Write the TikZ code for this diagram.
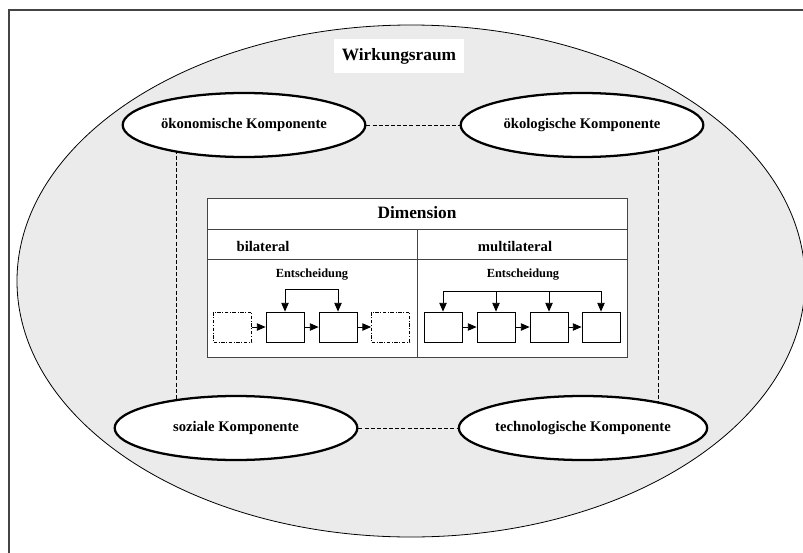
\documentclass[tikz,border=0pt]{standalone}
\usepackage{fontspec}
\setmainfont{Liberation Serif}
\usepackage{xcolor}
\definecolor{rahmengrau}{HTML}{444444}
\definecolor{raster}{HTML}{EBEBEB}
\usetikzlibrary{arrows.meta,positioning,calc,shapes.geometric,backgrounds}
\tikzset{
  >={Triangle[length=6.5pt,width=5.5pt]},
  komp/.style  ={ellipse,draw=black,fill=white,line width=1.7pt,inner sep=0pt,
                 minimum width=182pt,minimum height=48pt,
                 font=\bfseries\fontsize{11}{13}\selectfont},
  feld/.style  ={rectangle,draw=black,fill=white,line width=0.6pt,inner sep=0pt,
                 minimum width=28.5pt,minimum height=22.5pt},
  offen/.style ={feld,dash pattern=on 2.6pt off 1.2pt on 0.7pt off 1.2pt},
  titel/.style ={font=\bfseries\fontsize{13}{15}\selectfont,inner sep=1pt},
  kopf/.style  ={font=\bfseries\fontsize{11}{13}\selectfont,inner sep=1pt},
  lbl/.style   ={font=\bfseries\fontsize{9.3}{11}\selectfont,inner sep=1pt},
  tab/.style   ={draw=rahmengrau,line width=0.6pt},
  verb/.style  ={draw=black,line width=0.5pt,dash pattern=on 3pt off 1.6pt},
  flow/.style  ={->,draw=black,line width=0.6pt},
}

\begin{document}
\begin{tikzpicture}[x=0.75pt,y=-0.75pt]
\useasboundingbox (0,0) rectangle (803,553);
% frame
\draw[draw=rahmengrau,line width=0.8pt] (9,10) rectangle (830,580);
% components
\node[komp] (oek)  at (244,125) {ökonomische Komponente};
\node[komp] (oko)  at (582,125) {ökologische Komponente};
\node[komp] (soz)  at (236,428) {soziale Komponente};
\node[komp] (tech) at (583,428) {technologische Komponente};
\node[fill=white,inner sep=0pt,minimum width=98pt,minimum height=26pt,titel] (raum)
  at (399,56) {Wirkungsraum};
% space and dashed links
\coordinate (dl) at (176,0);
\coordinate (dr) at (658,0);
\begin{scope}[on background layer]
\draw[draw=black,line width=0.6pt,fill=raster] (411,281) ellipse [x radius=295.5pt,y radius=192pt];
\draw[verb] (oek) -- (oko);
\draw[verb] (soz) -- (tech);
\draw[verb] (oek.center -| dl) -- (soz.center -| dl);
\draw[verb] (oko.center -| dr) -- (tech.center -| dr);
\end{scope}
% dimension table
\draw[tab,fill=white] (207,198) rectangle (627,357);
\draw[tab] (207,229) -- (627,229);
\draw[tab] (207,259) -- (627,259);
\draw[tab] (417,229) -- (417,357);
\node[titel] (dim) at (417,213) {Dimension};
\node[kopf,anchor=west] (bil) at (235,246) {bilateral};
\node[kopf] (mul) at (515,246) {multilateral};
\node[lbl] (ebil) at (312,275) {Entscheidung};
\node[lbl] (emul) at (523,275) {Entscheidung};
% bilateral
\node[offen] (b1) at (232.5,327) {};
\node[feld]  (b2) at (285,327) {};
\node[feld]  (b3) at (338,327) {};
\node[offen] (b4) at (390.5,327) {};
\draw[flow] (b1) -- (b2);
\draw[flow] (b2) -- (b3);
\draw[flow] (b3) -- (b4);
\coordinate (bilbar) at (0,289);
\draw[flow,<->] (b2.north) -- (b2.north |- bilbar) -| (b3.north);
% multilateral
\foreach \n/\x in {m1/443,m2/496,m3/549,m4/601}
  {\node[feld] (\n) at (\x,327) {};}
\draw[flow] (m1) -- (m2);
\draw[flow] (m2) -- (m3);
\draw[flow] (m3) -- (m4);
\coordinate (mulbar) at (0,291);
\draw[tab,draw=black] (m1.north |- mulbar) -- (m4.north |- mulbar);
\foreach \n in {m1,m2,m3,m4}
  {\draw[flow] (\n.north |- mulbar) -- (\n.north);}
\end{tikzpicture}
\end{document}
